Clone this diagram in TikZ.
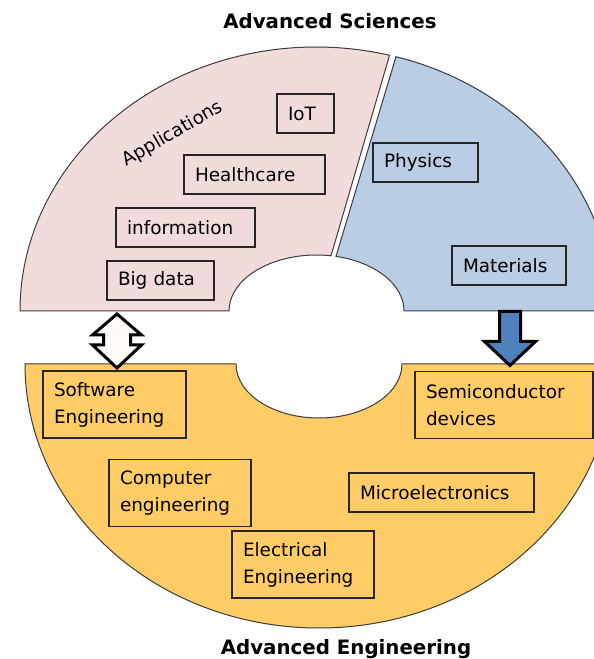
\documentclass[tikz,border=0pt]{standalone}
\usepackage{fontspec}
\usepackage{tikz}
\newfontfamily\cellfont{DejaVu Sans}
\definecolor{mypinki}{RGB}{242,220,219}
\definecolor{mybluei}{RGB}{185,205,229}
\definecolor{myblueii}{RGB}{79,129,189}
\definecolor{myorangei}{RGB}{255,204,102}
\definecolor{myarrowwhite}{RGB}{253,250,248}
\definecolor{myline}{RGB}{60,60,60}
\tikzset{
  sectorpic/.style={
    x=1pt,y=1pt
    ,inner sep=0pt
    ,outer sep=0pt
  }
  ,sectortitle/.style={ inner sep=0pt, anchor=base
    ,font={\cellfont\bfseries\fontsize{19.8}{24}\selectfont}}
  ,sector/.style={draw=myline,line width=1pt}
  ,blockarrow/.style={draw=black,line width=3pt,line join=miter}
  ,cellbox/.style={
    draw=black!85, line width=1.5pt,
    inner xsep=11pt, inner ysep=0pt,
    align=left,
    minimum height=39pt,
    font={\cellfont\fontsize{18.4}{27}\selectfont}
  }
  ,tallbox/.style={cellbox,minimum height=67pt}
}
\newcommand\fieldbox[5][cellbox]{
\node[#1,text width=#4pt] (#2) at (#3) {#5};
}

\begin{document}
\begin{tikzpicture}[sectorpic]
    \useasboundingbox (0,0) rectangle (594,659);
    \clip (0,0) rectangle (594,659);
    % upper half: sciences
    \filldraw[sector,fill=mypinki] (20,348)
      arc[start angle=180,end angle=75.62,x radius=296,y radius=264]
      -- ([shift={(316.5,348)}]80.46:87.5 and 56)
      arc[start angle=80.46,end angle=180,x radius=87.5,y radius=56]
      -- cycle;
    \filldraw[sector,fill=mybluei] ([shift={(316.5,348)}]74.42:296 and 264)
      arc[start angle=74.42,end angle=0,x radius=296,y radius=264]
      -- (404,348)
      arc[start angle=0,end angle=77.12,x radius=87.5,y radius=56]
      -- cycle;
    % lower half: engineering
    \filldraw[sector,fill=myorangei] (25,295)
      arc[start angle=180,end angle=360,x radius=294,y radius=264]
      -- (402,295)
      arc[start angle=0,end angle=-180,x radius=83,y radius=54]
      -- cycle;
    % arrows between the halves
    \filldraw[blockarrow,fill=myarrowwhite] (117,345) -- (92.5,324) -- (103.5,324)
      -- (103.5,314) -- (92.5,314) -- (117,291) -- (141.5,314) -- (130.5,314)
      -- (130.5,324) -- (141.5,324) -- cycle;
    \filldraw[blockarrow,fill=myblueii] (499.5,347.5) -- (499.5,317.5) -- (484.5,317.5)
      -- (510,293.5) -- (535.5,317.5) -- (520.5,317.5) -- (520.5,347.5) -- cycle;
    % sciences fields
    \node[cellbox,draw=none,rotate=30] (sciapps) at (173,525) {Applications};
    \fieldbox{sciiot}{305.5,545.5}{35}{IoT}
    \fieldbox{scihealth}{254.5,484.5}{119}{Healthcare}
    \fieldbox{sciinfo}{185.5,431.5}{117}{information}
    \fieldbox{scibig}{160.5,378.5}{85}{Big data}
    \fieldbox{sciphys}{425.5,496.5}{83}{Physics}
    \fieldbox{scimat}{509,393.5}{92}{Materials}
    % engineering fields
    \fieldbox[tallbox]{engsw}{114.5,254.5}{121}{Software\\Engineering}
    \fieldbox[tallbox]{engsemi}{504,254}{156}{Semiconductor\\devices}
    \fieldbox[tallbox]{engcomp}{180,166}{120}{Computer\\engineering}
    \fieldbox{engmicro}{441.5,166.5}{163}{Microelectronics}
    \fieldbox[tallbox]{engelec}{303,94.5}{120}{Electrical\\Engineering}
    % titles
    \node[sectortitle] (scititle) at (330,630) {Advanced Sciences};
    \node[sectortitle] (engtitle) at (346,5) {Advanced Engineering};
\end{tikzpicture}
\end{document}
